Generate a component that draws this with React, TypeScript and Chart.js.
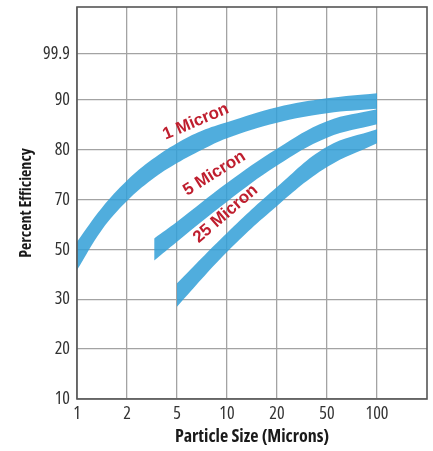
import React, { useEffect, useRef } from "react";
import { Chart, registerables } from "chart.js";

Chart.register(...registerables);

// Axis definitions
const sizeTicks = [1, 2, 5, 10, 20, 50, 100];
const sizeTickLabels = ["1", "2", "5", "10", "20", "50", "100"];
const effTicks = [10, 20, 30, 50, 70, 80, 90, 99.9];
const effTickLabels = ["10", "20", "30", "50", "70", "80", "90", "99.9"];
const effTickPos = [0, 1, 2, 3, 4, 5, 6, 6.93];

// 1 Micron band
const band1Sizes = [1, 1.41, 2, 3.16, 5, 7.07, 10, 20, 50, 100];
const band1Upper = [53.1, 66.6, 73.8, 78.0, 81.3, 83.8, 85.5, 88.5, 90.3, 91.4];
const band1Lower = [41.7, 57.8, 69.4, 74.0, 77.3, 80.0, 82.3, 85.4, 87.3, 88.2];

// 5 Micron band
const band2Sizes = [3.29, 5, 10, 20, 50, 100];
const band2Upper = [54.4, 61.1, 73.3, 80.2, 85.7, 88.1];
const band2Lower = [45.5, 53.1, 69.1, 76.8, 82.4, 85.1];

// 25 Micron band
const band3Sizes = [5, 10, 20, 50, 100];
const band3Upper = [36.4, 56.6, 72.5, 80.6, 84.1];
const band3Lower = [28.5, 48.9, 67.4, 76.5, 81.3];

// Band labels (anchored in data units)
const labelTexts = ["1 Micron", "5 Micron", "25 Micron"];
const labelSizes = [6.5, 8.4, 9.8];
const labelEffs = [85.6, 75.2, 64.2];
const labelAngles = [-23, -32, -41];

function sizeToIdx(s: number): number {
  for (let i = 0; i < sizeTicks.length - 1; i++) {
    const a = sizeTicks[i];
    const b = sizeTicks[i + 1];
    if (s <= b || i === sizeTicks.length - 2) {
      return i + Math.log(s / a) / Math.log(b / a);
    }
  }
  return 0;
}

function effToIdx(e: number): number {
  for (let i = 0; i < effTicks.length - 1; i++) {
    const a = effTicks[i];
    const b = effTicks[i + 1];
    if (e <= b || i === effTicks.length - 2) {
      return effTickPos[i] + ((e - a) / (b - a)) * (effTickPos[i + 1] - effTickPos[i]);
    }
  }
  return 0;
}

function pts(sizes: number[], vals: number[]) {
  return sizes.map((s, i) => ({ x: sizeToIdx(s), y: effToIdx(vals[i]) }));
}

const BAND = "rgba(51,160,215,0.86)";
const LABEL_RED = "#bf1e2e";
const FAMILY = '"Open Sans", "DejaVu Sans", sans-serif';

export default function App() {
  const ref = useRef<HTMLCanvasElement | null>(null);

  useEffect(() => {
    if (!ref.current) return;

    const bandDs = (data: any[], fill: any) => ({
      data,
      borderWidth: 0,
      borderColor: "rgba(0,0,0,0)",
      backgroundColor: BAND,
      pointRadius: 0,
      fill,
      tension: 0.4,
    });

    const framePlugin = {
      id: "frame",
      afterDraw(chart: any) {
        const { ctx, chartArea } = chart;
        ctx.save();
        ctx.strokeStyle = "#555";
        ctx.lineWidth = 1.6;
        ctx.strokeRect(chartArea.left, chartArea.top, chartArea.right - chartArea.left, chartArea.bottom - chartArea.top);
        ctx.restore();
      },
    };

    const labelPlugin = {
      id: "bandLabels",
      afterDatasetsDraw(chart: any) {
        const { ctx } = chart;
        const xs = chart.scales.x;
        const ys = chart.scales.y;
        ctx.save();
        ctx.fillStyle = LABEL_RED;
        ctx.font = 'bold 17px "Liberation Sans", Arial, sans-serif';
        ctx.textAlign = "center";
        ctx.textBaseline = "middle";
        labelTexts.forEach((t, i) => {
          const px = xs.getPixelForValue(sizeToIdx(labelSizes[i]));
          const py = ys.getPixelForValue(effToIdx(labelEffs[i]));
          ctx.save();
          ctx.translate(px, py);
          ctx.rotate((labelAngles[i] * Math.PI) / 180);
          ctx.fillText(t, 0, 0);
          ctx.restore();
        });
        ctx.restore();
      },
    };

    const tickFont = { family: FAMILY, size: 18, weight: "condensed" };

    const chart = new Chart(ref.current, {
      type: "line",
      data: {
        datasets: [
          bandDs(pts(band1Sizes, band1Upper), "+1"),
          bandDs(pts(band1Sizes, band1Lower), false),
          bandDs(pts(band2Sizes, band2Upper), "+1"),
          bandDs(pts(band2Sizes, band2Lower), false),
          bandDs(pts(band3Sizes, band3Upper), "+1"),
          bandDs(pts(band3Sizes, band3Lower), false),
        ],
      },
      options: {
        animation: false,
        responsive: false,
        layout: { padding: { top: 7, right: 6, left: 0, bottom: 0 } },
        plugins: { legend: { display: false }, tooltip: { enabled: false } },
        scales: {
          x: {
            type: "linear",
            min: 0,
            max: 7,
            afterFit: (scale: any) => {
              scale.height = 52;
              scale.paddingLeft = 0;
              scale.paddingRight = 0;
            },
            afterBuildTicks: (scale: any) => {
              scale.ticks = sizeTicks.map((s) => ({ value: sizeToIdx(s) }));
            },
            ticks: {
              autoSkip: false,
              maxRotation: 0,
              padding: 4,
              color: "#333",
              font: tickFont,
              callback: (_v: any, i: number) => sizeTickLabels[i],
            },
            grid: { color: "#a3a3a3", lineWidth: 1.3, drawTicks: false },
            border: { display: false },
            title: {
              display: true,
              text: "Particle Size (Microns)",
              color: "#1a1a1a",
              font: { family: FAMILY, size: 18, weight: "bold condensed", lineHeight: 1 },
              padding: { top: 0, bottom: 5 },
            },
          },
          y: {
            type: "linear",
            min: 0,
            max: 7.86,
            afterFit: (scale: any) => {
              scale.width = 77;
              scale.paddingTop = 0;
              scale.paddingBottom = 0;
            },
            afterBuildTicks: (scale: any) => {
              scale.ticks = effTickPos.map((p) => ({ value: p }));
            },
            ticks: {
              autoSkip: false,
              padding: 7,
              color: "#333",
              font: tickFont,
              callback: (_v: any, i: number) => effTickLabels[i],
            },
            grid: { color: "#a3a3a3", lineWidth: 1.3, drawTicks: false },
            border: { display: false },
            title: {
              display: true,
              text: "Percent Efficiency",
              color: "#1a1a1a",
              font: { family: FAMILY, size: 16, weight: "bold condensed", lineHeight: 1 },
              padding: { top: 18, bottom: 0 },
            },
          },
        },
      },
      plugins: [labelPlugin, framePlugin],
    } as any);

    return () => chart.destroy();
  }, []);

  return (
    <div style={{ position: "fixed", left: 0, top: 0, width: 433, height: 451, background: "#fff" }}>
      <canvas ref={ref} width={433} height={451} />
    </div>
  );
}
